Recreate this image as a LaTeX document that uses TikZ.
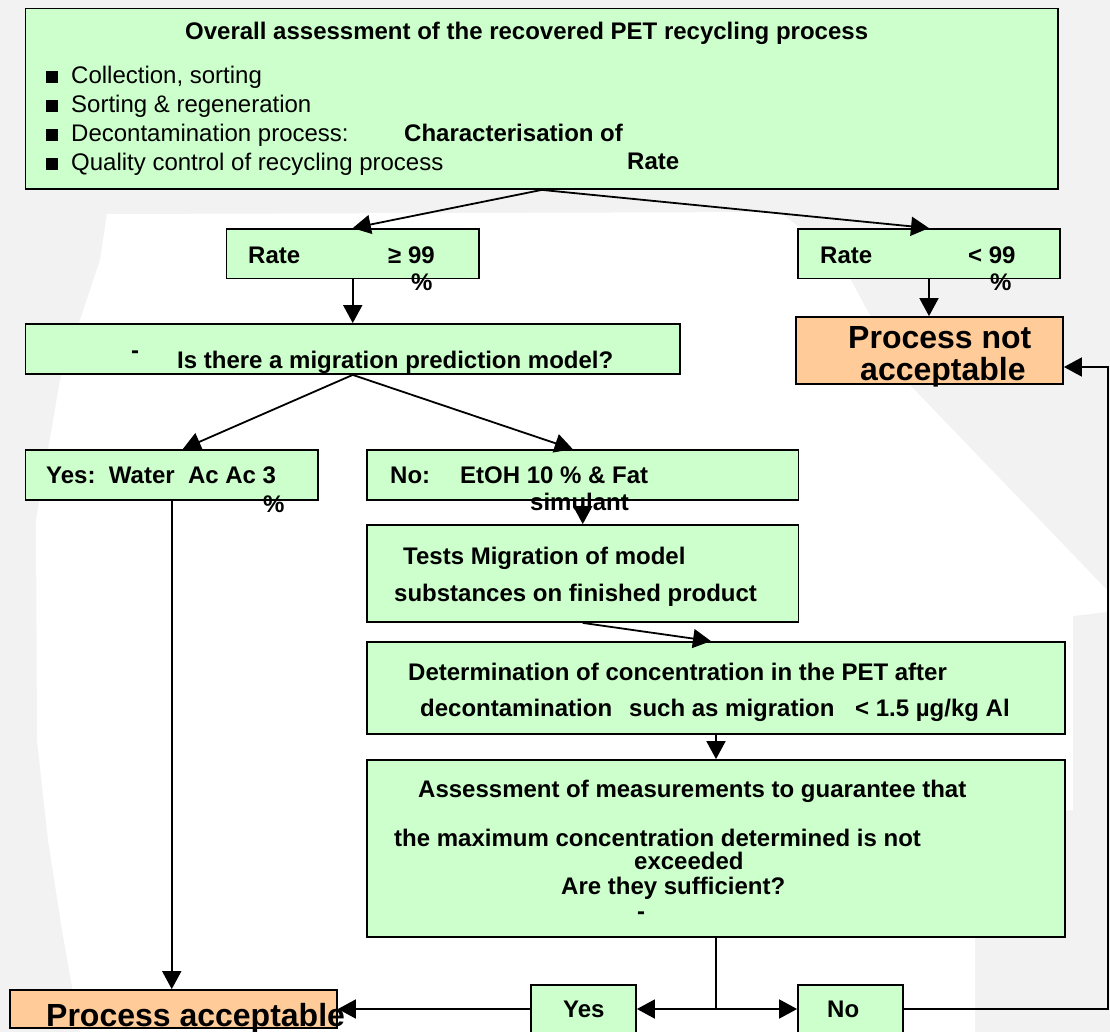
\documentclass[tikz,border=0pt]{standalone}
\usepackage{fontspec}
\setmainfont{Liberation Sans}
\usetikzlibrary{arrows.meta,calc}
\definecolor{boxgreen}{HTML}{CCFFCC}
\definecolor{boxorange}{HTML}{FFCC99}
\definecolor{bggrey}{HTML}{F2F2F2}
\begin{document}
\begin{tikzpicture}[x=1pt,y=-1pt,
  gbox/.style={draw=black,line width=1.8pt,fill=boxgreen,rectangle,inner sep=0pt},
  obox/.style={draw=black,line width=1.8pt,fill=boxorange,rectangle,inner sep=0pt},
  txt/.style={anchor=base west,inner sep=0pt,font=\bfseries\fontsize{24}{28}\selectfont},
  rtxt/.style={anchor=base west,inner sep=0pt,font=\fontsize{24}{28}\selectfont},
  btxt/.style={anchor=base west,inner sep=0pt,font=\bfseries\fontsize{32}{36}\selectfont},
  sq/.style={fill=black,inner sep=0pt,minimum size=12pt,rectangle},
  arr/.style={-{Triangle[length=18pt,width=19pt]},line width=1.8pt},
  plain/.style={line width=1.8pt}]
\useasboundingbox (0,0) rectangle (1110,1032);
% faint background
\fill[bggrey] (0,0) rectangle (1110,1032);
\fill[white] (107,214) -- (780,212) -- (840,260) -- (905,380) -- (1107,590) -- (1107,612)
  -- (1073,616) -- (1073,810) -- (975,820) -- (975,1032) -- (80,1032) -- (62,930)
  -- (48,840) -- (37,740) -- (36,520) -- (60,380) -- (100,260) -- cycle;

% boxes
\node[gbox,minimum width=1032.5pt,minimum height=180.4pt] (top) at (541.75,98.8) {};
\node[gbox,minimum width=252.5pt,minimum height=49.5pt] (rge) at (352.75,253.75) {};
\node[gbox,minimum width=262pt,minimum height=49.5pt] (rlt) at (929,253.75) {};
\node[gbox,minimum width=654.5pt,minimum height=50pt] (migr) at (352.75,349) {};
\node[obox,minimum width=267pt,minimum height=67pt] (pna) at (929.5,350.5) {};
\node[gbox,minimum width=292.5pt,minimum height=50pt] (yesw) at (171.75,475) {};
\node[gbox,minimum width=431.5pt,minimum height=50pt] (noet) at (582.75,475) {};
\node[gbox,minimum width=431.5pt,minimum height=97pt] (tests) at (582.75,573.5) {};
\node[gbox,minimum width=698pt,minimum height=92pt] (det) at (716,688) {};
\node[gbox,minimum width=698pt,minimum height=177pt] (assess) at (716,848.5) {};
\node[gbox,minimum width=105pt,minimum height=48pt] (yesb) at (583.5,1009) {};
\node[gbox,minimum width=105pt,minimum height=48pt] (nob) at (850.5,1009) {};
\node[obox,minimum width=327pt,minimum height=38pt] (pa) at (173.5,1009) {};

% top box text
\node[txt] (t0) at (185,40) {Overall assessment of the recovered PET recycling process};
\node[sq] (s1) at (52,77.5) {};
\node[sq] (s2) at (52,106.5) {};
\node[sq] (s3) at (52,135.5) {};
\node[sq] (s4) at (52,164.5) {};
\node[rtxt] (t1) at (71,84) {Collection, sorting};
\node[rtxt] (t2) at (71,113) {Sorting \& regeneration};
\node[rtxt] (t3) at (71,142) {Decontamination process:};
\node[rtxt] (t4) at (71,171) {Quality control of recycling process};
\node[txt] (t5) at (404,142) {Characterisation of};
\node[txt] (t6) at (627,170) {Rate};

% rate boxes
\node[txt] (r1) at (248,263) {Rate};
\node[txt] (r2) at (388,263) {≥ 99};
\node[txt] (r3) at (411,290) {\%};
\node[txt] (r4) at (820,263) {Rate};
\node[txt] (r5) at (968,263) {< 99};
\node[txt] (r6) at (990,290) {\%};

% migration
\node[txt] (m1) at (131,358) {-};
\node[txt] (m2) at (177,368) {Is there a migration prediction model?};

% process not acceptable
\node[btxt] (p1) at (848,348) {Process not};
\node[btxt] (p2) at (860,380) {acceptable};

% yes / no
\node[txt] (y1) at (46,483) {Yes:\ \ Water\ \ Ac Ac 3};
\node[txt] (y2) at (263,512) {\%};
\node[txt] (n1) at (390,483) {No:};
\node[txt] (n2) at (460,483) {EtOH 10 \% \& Fat};
\node[txt] (n3) at (530,510) {simulant};

% tests
\node[txt] (e1) at (403,564) {Tests Migration of model};
\node[txt] (e2) at (394,601) {substances on finished product};

% determination
\node[txt] (d1) at (408,680) {Determination of concentration in the PET after};
\node[txt] (d2) at (420,716) {decontamination};
\node[txt] (d3) at (629,716) {such as migration};
\node[txt] (d4) at (855,716) {< 1.5 µg/kg Al};

% assessment
\node[txt] (a1) at (418,797) {Assessment of measurements to guarantee that};
\node[txt] (a2) at (394,846) {the maximum concentration determined is not};
\node[txt] (a3) at (634,869) {exceeded};
\node[txt] (a4) at (561,894) {Are they sufficient?};
\node[txt] (a5) at (637,919) {-};

% bottom
\node[txt] (b1) at (563,1017) {Yes};
\node[txt] (b2) at (827,1017) {No};
\node[btxt] (b3) at (46,1026) {Process acceptable};

% connectors
\draw[arr] (top.south) -- (rge.north);
\draw[arr] (top.south) -- (rlt.north);
\draw[arr] (rge.south) -- (migr.north);
\draw[arr] (rlt.south) -- (rlt.south |- pna.north);
\draw[arr] (migr.south) -- ($(yesw.north)+(11,0)$);
\draw[arr] (migr.south) -- ($(noet.north)+(-10,0)$);
\draw[arr] (noet.south) -- (tests.north);
\draw[arr] (tests.south) -- ($(det.north)+(-5,0)$);
\draw[arr] (det.south) -- (assess.north);
\draw[arr] (yesw.south) -- (yesw.south |- pa.north);
\coordinate (split) at (716,1009);
\draw[plain] (assess.south) -- (split);
\draw[arr] (split) -- (yesb.east);
\draw[arr] (split) -- (nob.west);
\draw[arr] (yesb.west) -- (yesb.west -| pa.east);
\coordinate (fb1) at (1108,1009);
\coordinate (fb2) at (1108,367);
\draw[arr] (nob.east) -- (fb1) -- (fb2) -- (fb2 -| pna.east);
\end{tikzpicture}
\end{document}
